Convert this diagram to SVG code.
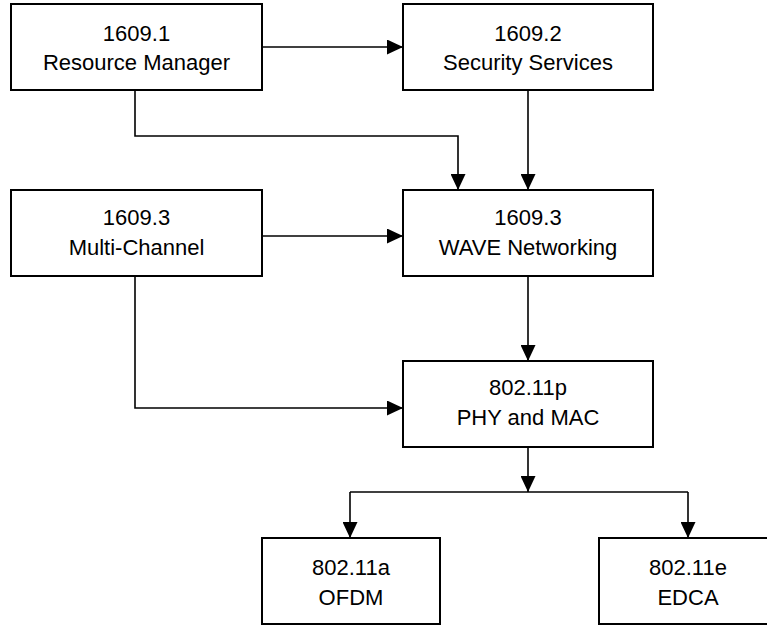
<svg xmlns="http://www.w3.org/2000/svg" width="767" height="626" viewBox="0 0 767 626">
  <style>
    .box { fill: #ffffff; stroke: #000000; stroke-width: 2; }
    .lbl { font-family: "Liberation Sans", Arial, sans-serif; font-size: 22px; fill: #000000; text-anchor: middle; }
    .conn { fill: none; stroke: #000000; stroke-width: 1.6; marker-end: url(#arrow); }
    .plain { fill: none; stroke: #000000; stroke-width: 1.6; }
  </style>
  <defs>
    <marker id="arrow" markerUnits="userSpaceOnUse" markerWidth="17" markerHeight="15" refX="16" refY="7.5" orient="auto">
      <path d="M0,0 L16,7.5 L0,15 z" fill="#000000"/>
    </marker>
  </defs>
  <rect width="767" height="626" fill="#ffffff"/>

  <g id="connectors">
    <path class="conn" d="M262,47 H403"/>
    <path class="conn" d="M135,90 V136 H458 V190"/>
    <path class="conn" d="M528,90 V190"/>
    <path class="conn" d="M262,236 H403"/>
    <path class="conn" d="M135,276 V408 H403"/>
    <path class="conn" d="M528,276 V361"/>
    <path class="conn" d="M528,447 V492"/>
    <path class="plain" d="M350,492 H688"/>
    <path class="conn" d="M350,492 V538"/>
    <path class="conn" d="M688,492 V538"/>
  </g>

  <g id="node-1609-1">
    <rect class="box" x="11" y="4" width="251" height="86"/>
    <text class="lbl" x="136.5" y="40.5">1609.1</text>
    <text class="lbl" x="136.5" y="70">Resource Manager</text>
  </g>
  <g id="node-1609-2">
    <rect class="box" x="403" y="4" width="250" height="86"/>
    <text class="lbl" x="528" y="40.5">1609.2</text>
    <text class="lbl" x="528" y="70">Security Services</text>
  </g>
  <g id="node-1609-3-mc">
    <rect class="box" x="11" y="190" width="251" height="86"/>
    <text class="lbl" x="136.5" y="225">1609.3</text>
    <text class="lbl" x="136.5" y="255">Multi-Channel</text>
  </g>
  <g id="node-1609-3-wave">
    <rect class="box" x="403" y="190" width="250" height="86"/>
    <text class="lbl" x="528" y="225">1609.3</text>
    <text class="lbl" x="528" y="255">WAVE Networking</text>
  </g>
  <g id="node-80211p">
    <rect class="box" x="403" y="361" width="250" height="86"/>
    <text class="lbl" x="528" y="395">802.11p</text>
    <text class="lbl" x="528" y="425">PHY and MAC</text>
  </g>
  <g id="node-80211a">
    <rect class="box" x="262" y="538" width="178" height="86"/>
    <text class="lbl" x="351" y="575">802.11a</text>
    <text class="lbl" x="351" y="605">OFDM</text>
  </g>
  <g id="node-80211e">
    <rect class="box" x="599" y="538" width="178" height="86"/>
    <text class="lbl" x="688" y="575">802.11e</text>
    <text class="lbl" x="688" y="605">EDCA</text>
  </g>
</svg>
